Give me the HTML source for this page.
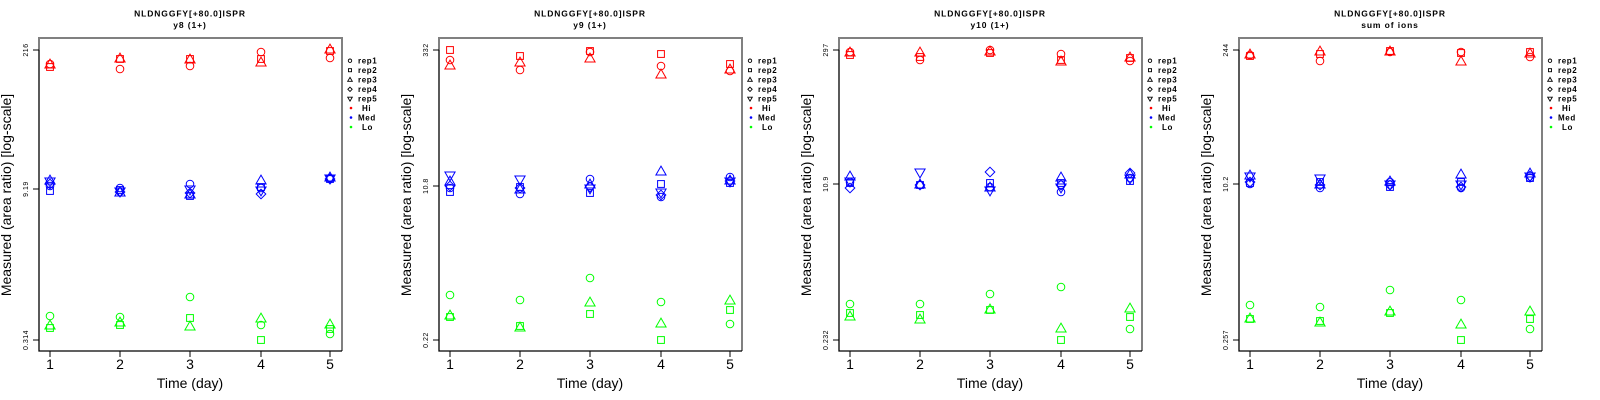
<!DOCTYPE html>
<html><head><meta charset="utf-8"><style>
html,body{margin:0;padding:0;background:#fff;}
svg{display:block;font-family:"Liberation Sans",Arial,sans-serif;}
.tt{font-size:8.5px;font-weight:bold;letter-spacing:0.9px;text-anchor:middle;}
.yl{font-size:7px;letter-spacing:0.5px;text-anchor:middle;}
.xl{font-size:14px;text-anchor:middle;}
.lg{font-size:8px;font-weight:bold;letter-spacing:0.6px;}
</style></head><body>
<svg width="1600" height="400" viewBox="0 0 1600 400" xmlns="http://www.w3.org/2000/svg">
<defs>
<circle id="c" r="3.8" fill="none"/>
<rect id="s" x="-3.4" y="-3.4" width="6.8" height="6.8" fill="none"/>
<path id="t" d="M0,-5.9L5.1,2.95L-5.1,2.95Z" fill="none"/>
<path id="d" d="M0,-4.8L4.8,0L0,4.8L-4.8,0Z" fill="none"/>
<path id="v" d="M0,5.9L5.1,-2.95L-5.1,-2.95Z" fill="none"/>
<g id="frame">
<path d="M39,50V38H342V351" stroke="#808080" stroke-width="2" fill="none"/>
<path d="M39,50V351H342" stroke="#000" stroke-width="1.3" fill="none"/>
<path d="M33,50H39M33,340H39M50,351V357M120,351V357M190,351V357M261,351V357M330,351V357" stroke="#000" stroke-width="1"/>
<text class="xl" x="50" y="369">1</text><text class="xl" x="120" y="369">2</text><text class="xl" x="190" y="369">3</text><text class="xl" x="261" y="369">4</text><text class="xl" x="330" y="369">5</text>
<text class="xl" x="190" y="388">Time (day)</text>
<text class="xl" transform="translate(11,195) rotate(-90)">Measured (area ratio) [log-scale]</text>
<g stroke="#000" stroke-width="2">
<use href="#c" transform="translate(350,60.7) scale(0.45)"/>
<use href="#s" transform="translate(350,70.2) scale(0.45)"/>
<use href="#t" transform="translate(350,80) scale(0.45)"/>
<use href="#d" transform="translate(350,89.3) scale(0.45)"/>
<use href="#v" transform="translate(350,98.5) scale(0.45)"/>
</g>
<circle cx="351" cy="108" r="1.3" fill="#f00"/>
<circle cx="351" cy="117.5" r="1.3" fill="#00f"/>
<circle cx="351" cy="127" r="1.3" fill="#0f0"/>
<text class="lg" x="358" y="63.7">rep1</text>
<text class="lg" x="358" y="73.2">rep2</text>
<text class="lg" x="358" y="82.7">rep3</text>
<text class="lg" x="358" y="92.2">rep4</text>
<text class="lg" x="358" y="101.7">rep5</text>
<text class="lg" x="362" y="111.2">Hi</text>
<text class="lg" x="358" y="120.7">Med</text>
<text class="lg" x="362" y="130.2">Lo</text>
</g>
</defs>

<!-- Panel 1 -->
<g>
<use href="#frame"/>
<text class="tt" x="190" y="16.7">NLDNGGFY[+80.0]ISPR</text>
<text class="tt" x="190" y="28">y8 (1+)</text>
<path d="M33,189H39" stroke="#000"/>
<text class="yl" transform="translate(28,50) rotate(-90)">216</text>
<text class="yl" transform="translate(28,189) rotate(-90)">9.19</text>
<text class="yl" transform="translate(28,340) rotate(-90)">0.314</text>
<g stroke="#f00" stroke-width="1">
<use href="#c" x="50" y="64"/><use href="#s" x="50" y="67"/><use href="#t" x="50" y="65"/>
<use href="#c" x="120" y="69"/><use href="#s" x="120" y="59"/><use href="#t" x="120" y="59"/>
<use href="#c" x="190" y="66"/><use href="#s" x="190" y="59"/><use href="#t" x="190" y="60"/>
<use href="#c" x="261" y="52"/><use href="#s" x="261" y="59"/><use href="#t" x="261" y="63"/>
<use href="#c" x="330" y="58"/><use href="#s" x="330" y="51"/><use href="#t" x="330" y="50"/>
</g>
<g stroke="#00f" stroke-width="1">
<use href="#c" x="50" y="186"/><use href="#s" x="50" y="191"/><use href="#t" x="50" y="181"/><use href="#d" x="50" y="184"/><use href="#v" x="50" y="181"/>
<use href="#c" x="120" y="188"/><use href="#s" x="120" y="190"/><use href="#t" x="120" y="193"/><use href="#d" x="120" y="192"/><use href="#v" x="120" y="191"/>
<use href="#c" x="190" y="184"/><use href="#s" x="190" y="196"/><use href="#t" x="190" y="195"/><use href="#d" x="190" y="193"/><use href="#v" x="190" y="189"/>
<use href="#c" x="261" y="188"/><use href="#s" x="261" y="187"/><use href="#t" x="261" y="181"/><use href="#d" x="261" y="194"/><use href="#v" x="261" y="190"/>
<use href="#c" x="330" y="178"/><use href="#s" x="330" y="179"/><use href="#t" x="330" y="178"/><use href="#d" x="330" y="179"/><use href="#v" x="330" y="178"/>
</g>
<g stroke="#0f0" stroke-width="1">
<use href="#c" x="50" y="316"/><use href="#s" x="50" y="328"/><use href="#t" x="50" y="326"/>
<use href="#c" x="120" y="317"/><use href="#s" x="120" y="325"/><use href="#t" x="120" y="323"/>
<use href="#c" x="190" y="297"/><use href="#s" x="190" y="318"/><use href="#t" x="190" y="327"/>
<use href="#c" x="261" y="325"/><use href="#s" x="261" y="340"/><use href="#t" x="261" y="319"/>
<use href="#c" x="330" y="334"/><use href="#s" x="330" y="329"/><use href="#t" x="330" y="325"/>
</g>
</g>

<!-- Panel 2 -->
<g transform="translate(400,0)">
<use href="#frame"/>
<text class="tt" x="190" y="16.7">NLDNGGFY[+80.0]ISPR</text>
<text class="tt" x="190" y="28">y9 (1+)</text>
<path d="M33,186H39" stroke="#000"/>
<text class="yl" transform="translate(28,50) rotate(-90)">332</text>
<text class="yl" transform="translate(28,186) rotate(-90)">10.8</text>
<text class="yl" transform="translate(28,340) rotate(-90)">0.22</text>
<g stroke="#f00" stroke-width="1">
<use href="#c" x="50" y="60"/><use href="#s" x="50" y="50"/><use href="#t" x="50" y="66"/>
<use href="#c" x="120" y="70"/><use href="#s" x="120" y="56"/><use href="#t" x="120" y="63"/>
<use href="#c" x="190" y="52"/><use href="#s" x="190" y="51"/><use href="#t" x="190" y="59"/>
<use href="#c" x="261" y="66"/><use href="#s" x="261" y="54"/><use href="#t" x="261" y="75"/>
<use href="#c" x="330" y="71"/><use href="#s" x="330" y="64"/><use href="#t" x="330" y="70"/>
</g>
<g stroke="#00f" stroke-width="1">
<use href="#c" x="50" y="188"/><use href="#s" x="50" y="192"/><use href="#t" x="50" y="182"/><use href="#d" x="50" y="186"/><use href="#v" x="50" y="175"/>
<use href="#c" x="120" y="194"/><use href="#s" x="120" y="187"/><use href="#t" x="120" y="190"/><use href="#d" x="120" y="188"/><use href="#v" x="120" y="179"/>
<use href="#c" x="190" y="179"/><use href="#s" x="190" y="193"/><use href="#t" x="190" y="185"/><use href="#d" x="190" y="187"/><use href="#v" x="190" y="188"/>
<use href="#c" x="261" y="197"/><use href="#s" x="261" y="184"/><use href="#t" x="261" y="172"/><use href="#d" x="261" y="195"/><use href="#v" x="261" y="192"/>
<use href="#c" x="330" y="177"/><use href="#s" x="330" y="183"/><use href="#t" x="330" y="181"/><use href="#d" x="330" y="181"/><use href="#v" x="330" y="181"/>
</g>
<g stroke="#0f0" stroke-width="1">
<use href="#c" x="50" y="295"/><use href="#s" x="50" y="317"/><use href="#t" x="50" y="316"/>
<use href="#c" x="120" y="300"/><use href="#s" x="120" y="326"/><use href="#t" x="120" y="328"/>
<use href="#c" x="190" y="278"/><use href="#s" x="190" y="314"/><use href="#t" x="190" y="303"/>
<use href="#c" x="261" y="302"/><use href="#s" x="261" y="340"/><use href="#t" x="261" y="324"/>
<use href="#c" x="330" y="324"/><use href="#s" x="330" y="310"/><use href="#t" x="330" y="301"/>
</g>
</g>

<!-- Panel 3 -->
<g transform="translate(800,0)">
<use href="#frame"/>
<text class="tt" x="190" y="16.7">NLDNGGFY[+80.0]ISPR</text>
<text class="tt" x="190" y="28">y10 (1+)</text>
<path d="M33,184H39" stroke="#000"/>
<text class="yl" transform="translate(28,50) rotate(-90)">297</text>
<text class="yl" transform="translate(28,184) rotate(-90)">10.9</text>
<text class="yl" transform="translate(28,340) rotate(-90)">0.232</text>
<g stroke="#f00" stroke-width="1">
<use href="#c" x="50" y="52"/><use href="#s" x="50" y="55"/><use href="#t" x="50" y="53"/>
<use href="#c" x="120" y="60"/><use href="#s" x="120" y="57"/><use href="#t" x="120" y="53"/>
<use href="#c" x="190" y="50"/><use href="#s" x="190" y="53"/><use href="#t" x="190" y="52"/>
<use href="#c" x="261" y="54"/><use href="#s" x="261" y="60"/><use href="#t" x="261" y="62"/>
<use href="#c" x="330" y="61"/><use href="#s" x="330" y="58"/><use href="#t" x="330" y="58"/>
</g>
<g stroke="#00f" stroke-width="1">
<use href="#c" x="50" y="182"/><use href="#s" x="50" y="183"/><use href="#t" x="50" y="177"/><use href="#d" x="50" y="188"/><use href="#v" x="50" y="181"/>
<use href="#c" x="120" y="185"/><use href="#s" x="120" y="185"/><use href="#t" x="120" y="185"/><use href="#d" x="120" y="185"/><use href="#v" x="120" y="172"/>
<use href="#c" x="190" y="187"/><use href="#s" x="190" y="183"/><use href="#t" x="190" y="188"/><use href="#d" x="190" y="172"/><use href="#v" x="190" y="190"/>
<use href="#c" x="261" y="192"/><use href="#s" x="261" y="183"/><use href="#t" x="261" y="178"/><use href="#d" x="261" y="185"/><use href="#v" x="261" y="187"/>
<use href="#c" x="330" y="178"/><use href="#s" x="330" y="181"/><use href="#t" x="330" y="175"/><use href="#d" x="330" y="173"/><use href="#v" x="330" y="178"/>
</g>
<g stroke="#0f0" stroke-width="1">
<use href="#c" x="50" y="304"/><use href="#s" x="50" y="313"/><use href="#t" x="50" y="317"/>
<use href="#c" x="120" y="304"/><use href="#s" x="120" y="315"/><use href="#t" x="120" y="320"/>
<use href="#c" x="190" y="294"/><use href="#s" x="190" y="310"/><use href="#t" x="190" y="310"/>
<use href="#c" x="261" y="287"/><use href="#s" x="261" y="340"/><use href="#t" x="261" y="329"/>
<use href="#c" x="330" y="329"/><use href="#s" x="330" y="317"/><use href="#t" x="330" y="309"/>
</g>
</g>

<!-- Panel 4 -->
<g transform="translate(1200,0)">
<use href="#frame"/>
<text class="tt" x="190" y="16.7">NLDNGGFY[+80.0]ISPR</text>
<text class="tt" x="190" y="28">sum of ions</text>
<path d="M33,184H39" stroke="#000"/>
<text class="yl" transform="translate(28,50) rotate(-90)">244</text>
<text class="yl" transform="translate(28,184) rotate(-90)">10.2</text>
<text class="yl" transform="translate(28,340) rotate(-90)">0.257</text>
<g stroke="#f00" stroke-width="1">
<use href="#c" x="50" y="55"/><use href="#s" x="50" y="56"/><use href="#t" x="50" y="55"/>
<use href="#c" x="120" y="61"/><use href="#s" x="120" y="54"/><use href="#t" x="120" y="52"/>
<use href="#c" x="190" y="52"/><use href="#s" x="190" y="51"/><use href="#t" x="190" y="52"/>
<use href="#c" x="261" y="52"/><use href="#s" x="261" y="53"/><use href="#t" x="261" y="62"/>
<use href="#c" x="330" y="57"/><use href="#s" x="330" y="52"/><use href="#t" x="330" y="54"/>
</g>
<g stroke="#00f" stroke-width="1">
<use href="#c" x="50" y="184"/><use href="#s" x="50" y="183"/><use href="#t" x="50" y="176"/><use href="#d" x="50" y="182"/><use href="#v" x="50" y="176"/>
<use href="#c" x="120" y="188"/><use href="#s" x="120" y="182"/><use href="#t" x="120" y="185"/><use href="#d" x="120" y="185"/><use href="#v" x="120" y="178"/>
<use href="#c" x="190" y="182"/><use href="#s" x="190" y="187"/><use href="#t" x="190" y="182"/><use href="#d" x="190" y="185"/><use href="#v" x="190" y="184"/>
<use href="#c" x="261" y="188"/><use href="#s" x="261" y="182"/><use href="#t" x="261" y="175"/><use href="#d" x="261" y="187"/><use href="#v" x="261" y="184"/>
<use href="#c" x="330" y="178"/><use href="#s" x="330" y="178"/><use href="#t" x="330" y="174"/><use href="#d" x="330" y="176"/><use href="#v" x="330" y="176"/>
</g>
<g stroke="#0f0" stroke-width="1">
<use href="#c" x="50" y="305"/><use href="#s" x="50" y="319"/><use href="#t" x="50" y="319"/>
<use href="#c" x="120" y="307"/><use href="#s" x="120" y="321"/><use href="#t" x="120" y="323"/>
<use href="#c" x="190" y="290"/><use href="#s" x="190" y="313"/><use href="#t" x="190" y="312"/>
<use href="#c" x="261" y="300"/><use href="#s" x="261" y="340"/><use href="#t" x="261" y="325"/>
<use href="#c" x="330" y="329"/><use href="#s" x="330" y="319"/><use href="#t" x="330" y="312"/>
</g>
</g>
</svg>
</body></html>
